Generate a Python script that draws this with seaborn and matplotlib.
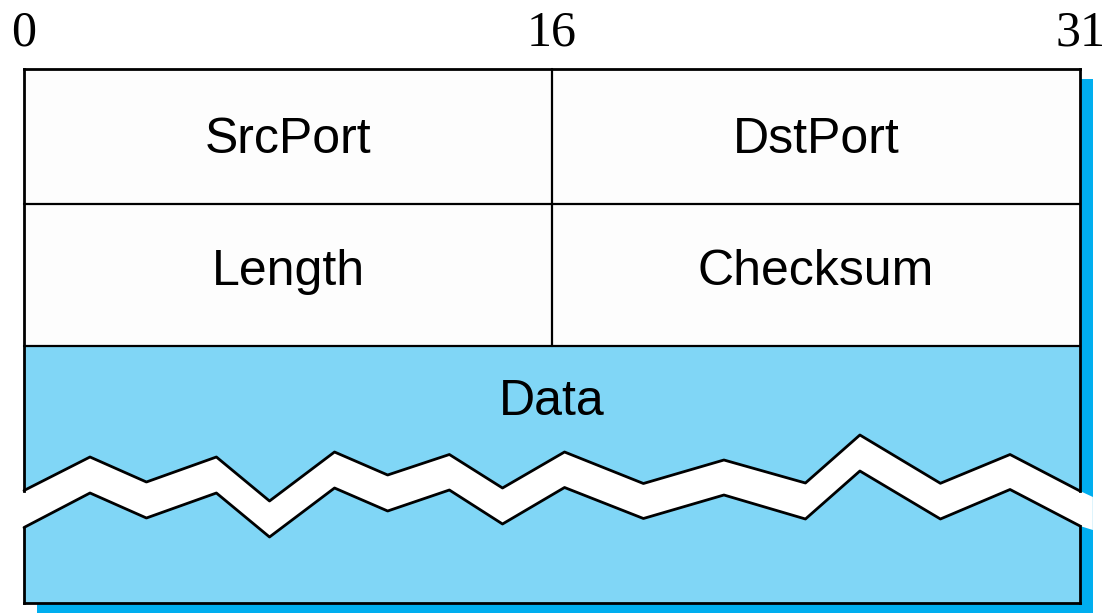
import matplotlib
matplotlib.use("Agg")
import matplotlib.pyplot as plt
import seaborn as sns
import pandas as pd
from matplotlib.patches import Rectangle, Polygon

sns.set_theme(style="white")
plt.rcParams['font.family'] = ['Liberation Sans', 'DejaVu Sans']

# ---- data ----
bit_ticks = [0, 16, 32]
bit_labels = ["0", "16", "31"]
field_names = ["SrcPort", "DstPort", "Length", "Checksum", "Data"]
field_start = [0, 16, 0, 16, 0]          # bit
field_end = [16, 32, 16, 32, 32]         # bit
field_row = [0, 0, 1, 1, 2]
row_edges = [0, 135, 277, 534]            # vertical extent of rows (px from top of box)
text_baseline = [84, 216, 346]            # per row

# zig-zag "break" in the data field (x in bits, y in px from top of box)
zig_x = [0, 2.0, 3.71, 5.83, 7.44, 9.41, 11.02, 12.89, 14.5, 16.38, 18.77,
         21.21, 23.68, 25.33, 27.77, 29.88, 32.0]
zig_upper = [421.5, 388, 413, 388, 432, 383, 406, 385.5, 419, 383, 414.5,
             391, 414, 366, 414.3, 385.5, 422]
zig_lower = [458.5, 424, 449, 424, 468, 419, 442, 421, 455, 418.5, 449.5,
             426, 450, 402, 450, 420.5, 457]
zig_ext_x = 32.39
zig_ext_upper = 428
zig_ext_lower = 461

# ---- style ----
LIGHT = "#80D6F6"
SHADOW = "#00AEEF"
HEAD = "#FDFDFD"
LW = 2.0

fig = plt.figure(figsize=(11.07, 6.13), dpi=100)
ax = fig.add_axes([0, 0, 1, 1])

W = bit_ticks[-1]
H = row_edges[-1]
sx, sy = 13 / 33, 10  # shadow offset

# shadow
ax.add_patch(Rectangle((sx, sy), W, H, facecolor=SHADOW, edgecolor="none", zorder=0))

# header rows
for r in range(2):
    ax.add_patch(Rectangle((0, row_edges[r]), W, row_edges[r + 1] - row_edges[r],
                           facecolor=HEAD, edgecolor="none", zorder=1))
# data row
ax.add_patch(Rectangle((0, row_edges[2]), W, row_edges[3] - row_edges[2],
                       facecolor=LIGHT, edgecolor="none", zorder=1))

# white break band
band = list(zip(zig_x + [zig_ext_x], zig_upper + [zig_ext_upper])) + \
    list(zip(([zig_ext_x] + zig_x[::-1]), ([zig_ext_lower] + zig_lower[::-1])))
ax.add_patch(Polygon(band, closed=True, facecolor="white", edgecolor="none", zorder=2))

# zig-zag lines via seaborn
zz = pd.DataFrame({"x": zig_x * 2, "y": zig_upper + zig_lower,
                   "edge": ["upper"] * len(zig_x) + ["lower"] * len(zig_x)})
sns.lineplot(data=zz, x="x", y="y", units="edge", estimator=None, sort=False,
             color="black", lw=LW, ax=ax, zorder=3, legend=False)
ax.set_xlim(-24 / 33, 1083 / 33)
ax.set_ylim(544, -69)
ax.axis("off")

# outline
kw = dict(color="black", lw=LW, zorder=4, solid_capstyle="projecting")
ax.plot([0, W], [0, 0], **kw)
ax.plot([0, W], [H, H], **kw)
ax.plot([0, 0], [0, zig_upper[0]], **kw)
ax.plot([0, 0], [zig_lower[0], H], **kw)
ax.plot([W, W], [0, zig_upper[-1]], **kw)
ax.plot([W, W], [zig_lower[-1], H], **kw)
for r in (1, 2):
    ax.plot([0, W], [row_edges[r], row_edges[r]], color="black", lw=LW * 0.8, zorder=4)
ax.plot([16, 16], [0, row_edges[2]], color="black", lw=LW * 0.8, zorder=4)

# field labels
for name, s, e, r in zip(field_names, field_start, field_end, field_row):
    ax.text((s + e) / 2, text_baseline[r], name, ha="center", va="baseline",
            fontsize=36, color="black", family=["Liberation Sans", "DejaVu Sans"], zorder=5)

# bit position labels
for b, lab in zip(bit_ticks, bit_labels):
    ax.text(b, -24, lab, ha="center", va="baseline", fontsize=36,
            family=["Liberation Serif", "DejaVu Serif"], color="black")

fig.savefig("out.png", dpi=100)
